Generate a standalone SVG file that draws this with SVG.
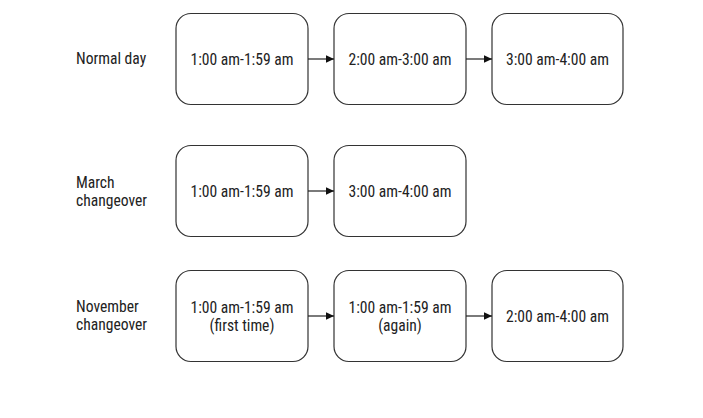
<svg xmlns="http://www.w3.org/2000/svg" width="703" height="418" viewBox="0 0 703 418">
<defs>
<style>
.box{fill:#fff;stroke:#333;stroke-width:1.2}
.t{font-family:"Liberation Sans Narrow","Arial Narrow","Roboto Condensed",sans-serif;font-size:15.6px;fill:#222}
.c{text-anchor:middle}
.edge{stroke:#222;stroke-width:1.2;fill:none}
</style>
<marker id="ah" markerWidth="10" markerHeight="9" refX="8.5" refY="4.5" orient="auto" markerUnits="userSpaceOnUse">
<path d="M0,0.5 L8.5,4.5 L0,8.5 Z" fill="#111"/>
</marker>
</defs>
<rect width="703" height="418" fill="#fff"/>
<g id="labels">
<text class="t" x="76" y="64">Normal day</text>
<text class="t" x="76" y="188">March</text>
<text class="t" x="76" y="205.5">changeover</text>
<text class="t" x="76" y="312">November</text>
<text class="t" x="76" y="329.5">changeover</text>
</g>
<g id="n1"><rect class="box" x="176" y="13.5" width="132" height="91" rx="15"/><text class="t c" x="242" y="64.5">1:00 am-1:59 am</text></g>
<g id="n2"><rect class="box" x="334" y="13.5" width="132" height="91" rx="15"/><text class="t c" x="400" y="64.5">2:00 am-3:00 am</text></g>
<g id="n3"><rect class="box" x="492" y="13.5" width="131" height="91" rx="15"/><text class="t c" x="557.5" y="64.5">3:00 am-4:00 am</text></g>
<g id="n4"><rect class="box" x="176" y="145.5" width="132" height="91" rx="15"/><text class="t c" x="242" y="196.5">1:00 am-1:59 am</text></g>
<g id="n5"><rect class="box" x="334" y="145.5" width="132" height="91" rx="15"/><text class="t c" x="400" y="196.5">3:00 am-4:00 am</text></g>
<g id="n6"><rect class="box" x="176" y="270.5" width="132" height="91" rx="15"/><text class="t c" x="242" y="312.5">1:00 am-1:59 am</text><text class="t c" x="242" y="330.5">(first time)</text></g>
<g id="n7"><rect class="box" x="334" y="270.5" width="132" height="91" rx="15"/><text class="t c" x="400" y="312.5">1:00 am-1:59 am</text><text class="t c" x="400" y="330.5">(again)</text></g>
<g id="n8"><rect class="box" x="492" y="270.5" width="131" height="91" rx="15"/><text class="t c" x="557.5" y="321.5">2:00 am-4:00 am</text></g>
<g id="connectors">
<path class="edge" d="M308,59 H334" marker-end="url(#ah)"/>
<path class="edge" d="M466,59 H492" marker-end="url(#ah)"/>
<path class="edge" d="M308,191 H334" marker-end="url(#ah)"/>
<path class="edge" d="M308,316 H334" marker-end="url(#ah)"/>
<path class="edge" d="M466,316 H492" marker-end="url(#ah)"/>
</g>
</svg>
